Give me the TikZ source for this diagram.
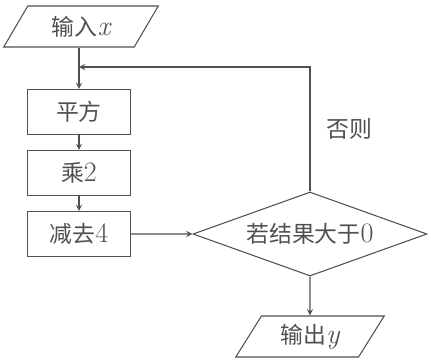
\documentclass[tikz,border=0pt]{standalone}
\usepackage{fontspec}
\usepackage{xcolor}
\usetikzlibrary{shapes.geometric, arrows, positioning}
\newfontfamily\cjk{Noto Sans CJK SC}
\newfontfamily\lmr{Latin Modern Roman}
\newcommand{\lat}[1]{{\fontsize{16}{15}\selectfont\lmr #1}}
\newcommand{\var}[1]{{\fontsize{16}{15}\selectfont\lmr\itshape #1}}
\definecolor{ink}{HTML}{505050}
\tikzstyle{io} = [trapezium, trapezium left angle=58, trapezium right angle=122, trapezium stretches=true, minimum width=3.1cm, minimum height=0.82cm, inner sep=0pt, text centered, draw=ink]
\tikzstyle{process} = [rectangle, minimum width=2.06cm, minimum height=0.9cm, text centered, draw=ink]
\tikzstyle{decision} = [diamond, aspect=2.8, minimum width=4.68cm, minimum height=1.68cm, inner sep=0pt, text centered, draw=ink]
\tikzstyle{arrow} = [->,>=stealth, draw=ink]

\begin{document}
\begin{tikzpicture}[node distance=1.22cm, line width=0.6pt, font=\cjk\fontsize{13}{15}\selectfont, text=ink]
\useasboundingbox [fill=white] (0,0) rectangle (8.62,-7.26);

\node (in) [io] at (1.62,-0.53) {输入\var{x}};
\node (sq) [process] at (1.58,-2.24) {平方};
\node (mul) [process, below of=sq] {乘\lat{2}};
\node (sub) [process, below of=mul] {减去\lat{4}};
\node (dec) [decision] at (6.2,-4.68) {若结果大于\lat{0}};
\node (out) [io, minimum width=2.98cm] at (6.2,-6.73) {输出\var{y}};
\coordinate (join) at (1.58,-1.34);

\draw [arrow] (in.south -| sq) -- (sq);
\draw [arrow] (sq) -- (mul);
\draw [arrow] (mul) -- (sub);
\draw [arrow] (sub) -- (dec);
\draw [arrow] (dec.north) |- (join) node [pos=0.25, right=0.2cm] {否则};
\draw [arrow] (dec) -- (out);

\end{tikzpicture}
\end{document}
